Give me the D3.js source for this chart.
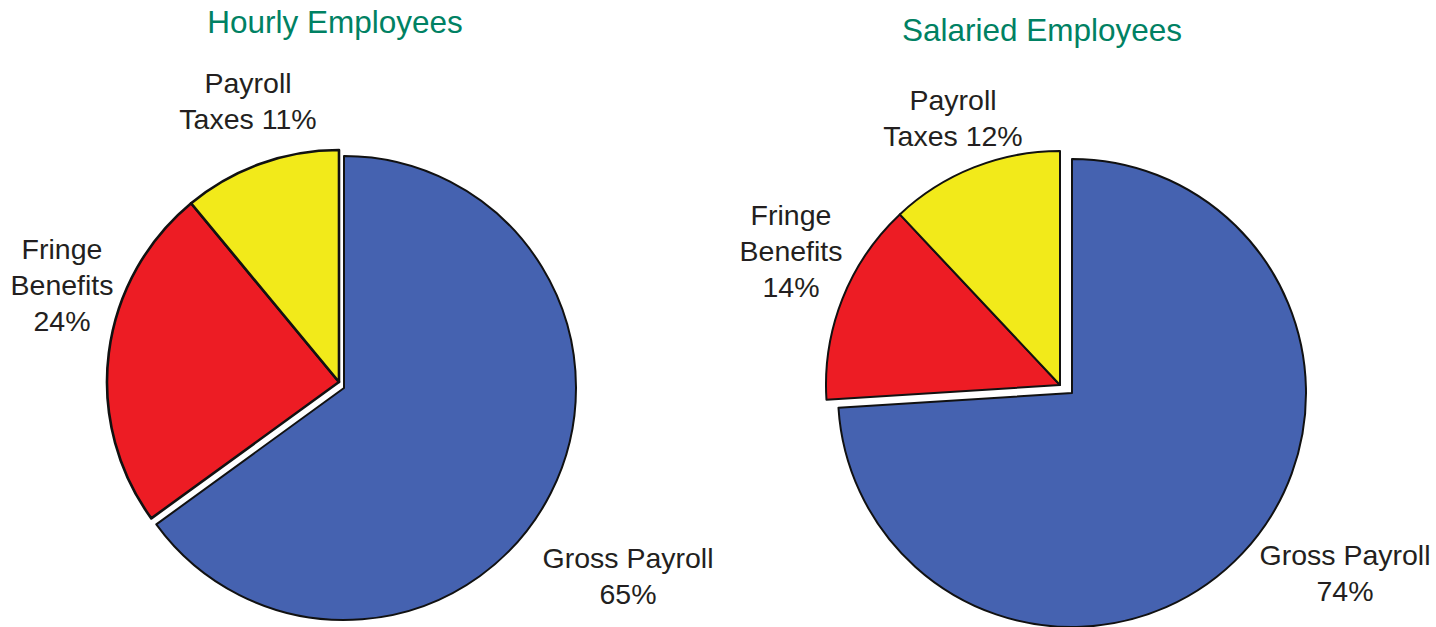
<!DOCTYPE html>
<html>
<head>
<meta charset="utf-8">
<script src="https://cdn.jsdelivr.net/npm/d3@7"></script>
<style>
  body { margin: 0; background: #fff; }
  svg { display: block; }
</style>
</head>
<body>
<div id="chart"></div>
<script>
// payroll cost breakdown, two pies

const categories = ["Gross Payroll", "Fringe Benefits", "Payroll Taxes"];
const hourlyValues = [65, 24, 11];
const salariedValues = [74, 14, 12];
const hourlyLabels = [["Gross Payroll", "65%"], ["Fringe", "Benefits", "24%"], ["Payroll", "Taxes 11%"]];
const salariedLabels = [["Gross Payroll", "74%"], ["Fringe", "Benefits", "14%"], ["Payroll", "Taxes 12%"]];
const titles = ["Hourly Employees", "Salaried Employees"];

const width = 1436, height = 627;
const colors = d3.scaleOrdinal().domain(categories).range(["#4562b0", "#ed1c24", "#f2ea1a"]);

const svg = d3.select("#chart").append("svg")
    .attr("width", width)
    .attr("height", height);

// layout for each pie: center of the red/yellow part, shift of the blue slice,
// label anchor offsets (centre x, first baseline) relative to the pie centre
const pies = [
    { title: titles[0], values: hourlyValues, labels: hourlyLabels,
      cx: 339, cy: 382, r: 232, shift: [5, 6], titleY: 33, titleDx: -4, splitW: 2.6,
      labelOff: [[289, 186], [-277, -123], [-91, -289]] },
    { title: titles[1], values: salariedValues, labels: salariedLabels,
      cx: 1060, cy: 385, r: 234, shift: [12, 8], titleY: 41, titleDx: -18, splitW: 2,
      labelOff: [[285, 180], [-269, -160], [-107, -275]] }
];

const pie = d3.pie().sort(null).value(d => d.value).startAngle(0).endAngle(2 * Math.PI);

pies.forEach(p => {
    const g = svg.append("g").attr("transform", `translate(${p.cx},${p.cy})`);
    const arc = d3.arc().innerRadius(0).outerRadius(p.r);
    const data = pie(categories.map((c, i) => ({ cat: c, value: p.values[i] })));

    g.selectAll("path")
        .data(data)
        .enter().append("path")
        .attr("transform", (d, i) => i === 0 ? `translate(${p.shift[0]},${p.shift[1]})` : null)
        .attr("d", arc)
        .attr("fill", d => colors(d.data.cat))
        .attr("stroke", "#111")
        .attr("stroke-width", (d, i) => i === 0 ? 2 : p.splitW)
        .attr("stroke-linejoin", "round");

    // labels
    data.forEach((d, i) => {
        const t = g.append("text")
            .attr("text-anchor", "middle")
            .attr("font-family", "'Liberation Sans', Arial, sans-serif")
            .attr("font-size", "28.5px")
            .attr("fill", "#231f20");
        p.labels[i].forEach((line, k) => {
            t.append("tspan")
                .attr("x", p.labelOff[i][0])
                .attr("y", p.labelOff[i][1] + k * 36)
                .text(line);
        });
    });

    svg.append("text")
        .attr("x", p.cx + p.titleDx)
        .attr("y", p.titleY)
        .attr("text-anchor", "middle")
        .attr("font-family", "'Liberation Sans', Arial, sans-serif")
        .attr("font-size", "31.5px")
        .attr("fill", "#008163")
        .text(p.title);
});
</script>
</body>
</html>
